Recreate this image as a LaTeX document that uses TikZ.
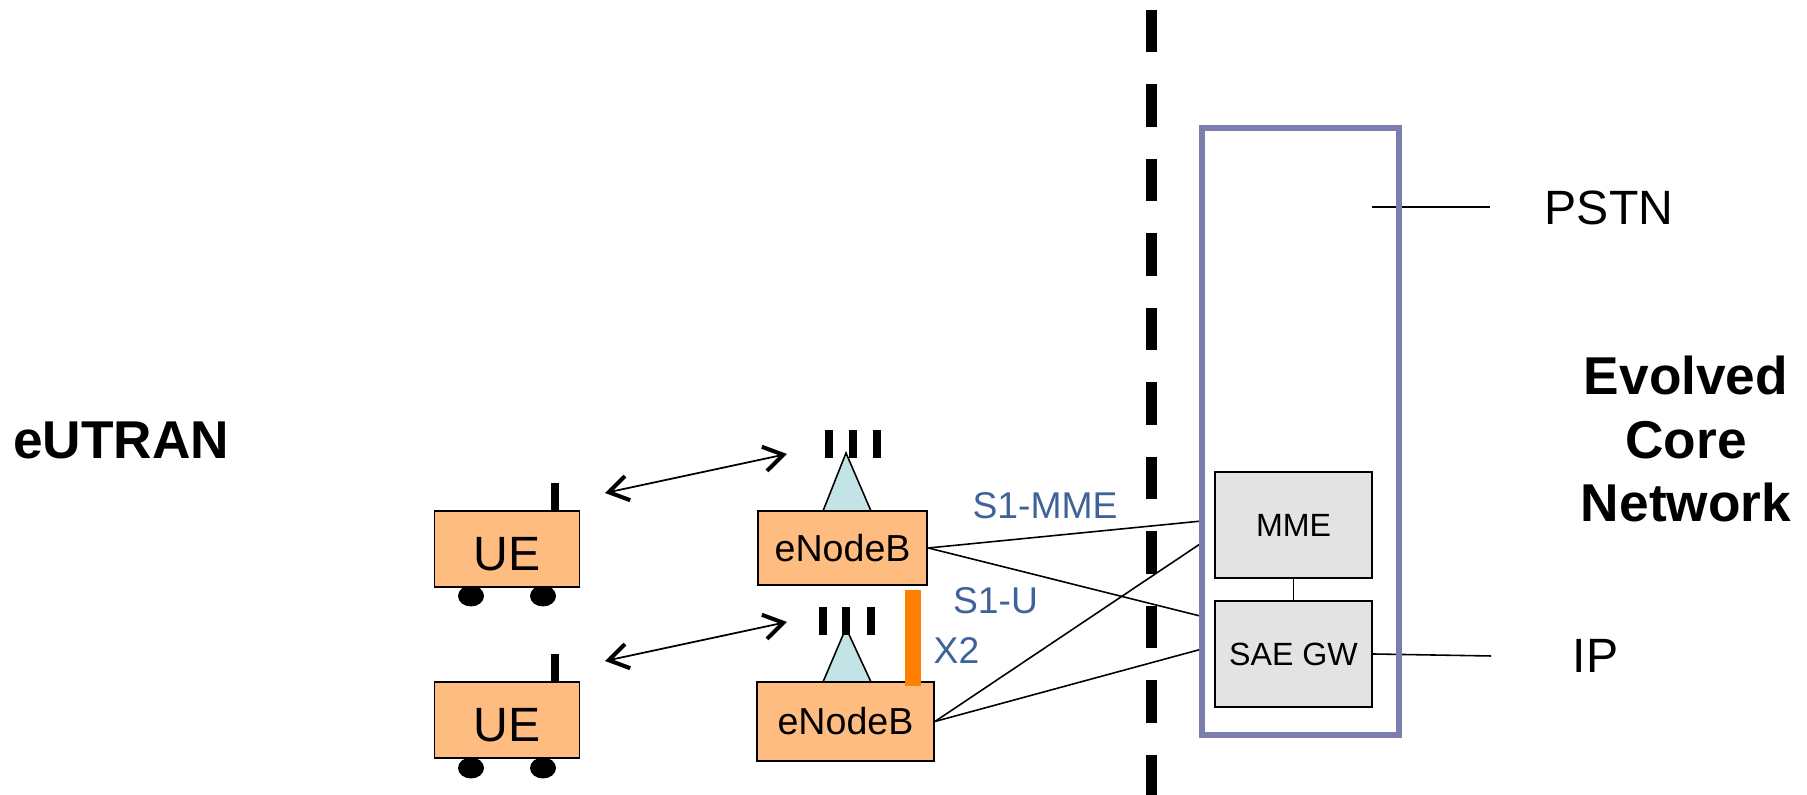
\documentclass[tikz,border=0pt]{standalone}
\usepackage{fontspec}
\setmainfont{Liberation Sans}
\usetikzlibrary{arrows.meta}
\definecolor{boxorange}{HTML}{FFBC80}
\definecolor{mastblue}{HTML}{C2E4E6}
\definecolor{gwgray}{HTML}{E3E3E3}
\definecolor{corepurple}{HTML}{7C7FAE}
\definecolor{linkblue}{HTML}{3F6299}
\definecolor{xorange}{HTML}{FF7F00}
\tikzset{
	ue/.style={draw=black,line width=.55pt,fill=boxorange,minimum width=1.45cm,minimum height=.76cm,inner sep=0pt,text height=12.1pt,text depth=0pt,font=\fontsize{13.7}{15}\selectfont},
	enb/.style={draw=black,line width=.55pt,fill=boxorange,inner sep=0pt,font=\fontsize{10.7}{12}\selectfont},
	gw/.style={draw=black,line width=.55pt,fill=gwgray,minimum width=1.57cm,minimum height=1.06cm,inner sep=0pt,font=\fontsize{9.15}{11}\selectfont},
	stub/.style={line width=.08cm},
	radio/.style={line width=.5pt,{Straight Barb[length=5.5pt,width=7pt,line width=1.15pt]}-{Straight Barb[length=5.5pt,width=7pt,line width=1.15pt]}},
	wire/.style={line width=.45pt},
	biglabel/.style={inner sep=0pt,font=\fontsize{15.15}{18.2}\selectfont\bfseries,align=center},
	extlabel/.style={inner sep=0pt,font=\fontsize{13.7}{16}\selectfont},
	linklabel/.style={inner sep=0pt,text=linkblue,font=\fontsize{10.6}{13}\selectfont}
}
\begin{document}
\begin{tikzpicture}
	\useasboundingbox (0,0) rectangle (18.07,7.95);

	\coordinate (mmein) at (12.02,2.74);
	\coordinate (mmeinb) at (12.00,2.51);
	\coordinate (saein) at (12.00,1.79);
	\coordinate (saeinb) at (12.02,1.46);
	\coordinate (pstnin) at (13.72,5.88);
	\coordinate (pstnout) at (14.90,5.88);
	\coordinate (ipout) at (14.91,1.39);
	\coordinate (cuttop) at (11.51,7.85);
	\coordinate (cutbottom) at (11.51,0);

	% masts and antennas
	\foreach \x in {8.29,8.53,8.77}
		\draw[stub] (\x,3.37) -- ++(0,.28);
	\draw[line width=.45pt,fill=mastblue] (8.23,1.13) -- (8.46,1.67) -- (8.71,1.13) -- cycle;
	\draw[line width=.45pt,fill=mastblue] (8.23,2.84) -- (8.46,3.42) -- (8.71,2.84) -- cycle;
	\foreach \x in {8.225,8.46,8.71}
		\draw[stub] (\x,1.60) -- ++(0,.28);
	\draw[stub] (5.55,2.84) -- ++(0,.28);
	\draw[stub] (5.55,1.13) -- ++(0,.28);

	% wheels
	\foreach \x in {4.71,5.43} {
		\fill (\x,1.99) ellipse (.13 and .105);
		\fill (\x,.27) ellipse (.13 and .105);
	}

	\node[ue] (ueone) at (5.07,2.46) {UE};
	\node[ue] (uetwo) at (5.07,.75) {UE};
	\node[enb,minimum width=1.695cm,minimum height=.74cm] (enbone) at (8.426,2.47) {eNodeB};
	\node[enb,minimum width=1.77cm,minimum height=.79cm] (enbtwo) at (8.455,.735) {eNodeB};

	\coordinate (ueonear) at (6.05,3.02);
	\coordinate (enbonear) at (7.87,3.41);
	\coordinate (uetwoar) at (6.05,1.34);
	\coordinate (enbtwoar) at (7.87,1.73);
	\draw[radio] (ueonear) -- (enbonear);
	\draw[radio] (uetwoar) -- (enbtwoar);

	% X2
	\fill[xorange] (9.05,1.09) rectangle (9.21,2.05);

	% cut between access and core
	\draw[line width=.11cm,dash pattern=on .425cm off .32cm] (cuttop) -- (cutbottom);

	\node[gw] (mme) at (12.935,2.70) {MME};
	\node[gw] (sae) at (12.935,1.41) {SAE GW};
	\draw[wire] (mme) -- (sae);

	\draw[wire] (enbone.east) -- (mmein);
	\draw[wire] (enbone.east) -- (saein);
	\draw[wire] (enbtwo.east) -- (mmeinb);
	\draw[wire] (enbtwo.east) -- (saeinb);
	\draw[wire] (pstnin) -- (pstnout);
	\draw[wire] (sae.east) -- (ipout);

	\node[draw=corepurple,line width=.055cm,minimum width=1.97cm,minimum height=6.07cm,inner sep=0pt] (core) at (13.005,3.635) {};

	\node[linklabel] (sonemme) at (10.45,2.89) {S1-MME};
	\node[linklabel] (soneu) at (9.955,1.94) {S1-U};
	\node[linklabel] (xtwo) at (9.565,1.44) {X2};

	\node[extlabel] (pstn) at (16.09,5.87) {PSTN};
	\node[extlabel] (ip) at (15.955,1.39) {IP};
	\node[biglabel] (eutran) at (1.21,3.55) {eUTRAN};
	\node[biglabel] (epc) at (16.86,3.56) {Evolved\\Core\\Network};
\end{tikzpicture}
\end{document}
